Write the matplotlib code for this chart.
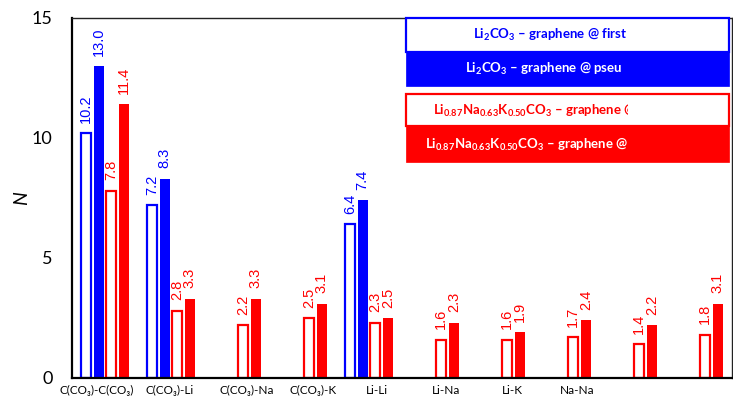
import numpy as np
import matplotlib
matplotlib.use("Agg")
import matplotlib.pyplot as plt
from matplotlib.patches import Rectangle
from matplotlib.transforms import Bbox, TransformedBbox

plt.rcParams['font.family'] = ['Lato', 'DejaVu Sans']
plt.rcParams['mathtext.fontset'] = 'custom'
plt.rcParams['mathtext.rm'] = 'Lato:bold'
plt.rcParams['mathtext.it'] = 'Lato:bold'
plt.rcParams['mathtext.bf'] = 'Lato:bold'

# coordination numbers per atom pair
pairs = ['C(CO₃)-C(CO₃)', 'C(CO₃)-Li', 'C(CO₃)-Na', 'C(CO₃)-K', 'Li-Li',
         'Li-Na', 'Li-K', 'Na-Na', '', '']
label_pos = [-0.12, 0.985, 2.15, 3.15, 4.12, 5.17, 6.17, 7.15, 8.15, 9.15]
li2co3_first = [10.2, 7.2, np.nan, np.nan, 6.4, np.nan, np.nan, np.nan, np.nan, np.nan]
li2co3_pseudo = [13.0, 8.3, np.nan, np.nan, 7.4, np.nan, np.nan, np.nan, np.nan, np.nan]
eut_first = [7.8, 2.8, 2.2, 2.5, 2.3, 1.6, 1.6, 1.7, 1.4, 1.8]
eut_pseudo = [11.4, 3.3, 3.3, 3.1, 2.5, 2.3, 1.9, 2.4, 2.2, 3.1]

legend_labels = [
    r'Li$_2$CO$_3$ – graphene @ first',
    r'Li$_2$CO$_3$ – graphene @ pseu',
    r'Li$_{0.87}$Na$_{0.63}$K$_{0.50}$CO$_3$ – graphene @',
    r'Li$_{0.87}$Na$_{0.63}$K$_{0.50}$CO$_3$ – graphene @',
]

BLUE = '#0000FF'
RED = '#FF0000'

fig = plt.figure(figsize=(7.33, 4.05), dpi=100)
ax = fig.add_axes([0.0982, 0.0667, 0.9004, 0.8889])

x = np.arange(len(pairs))
step = 0.19
w = 0.15
series = [
    (li2co3_first, BLUE, True),
    (li2co3_pseudo, BLUE, False),
    (eut_first, RED, True),
    (eut_pseudo, RED, False),
]
for k, (vals, col, hollow) in enumerate(series):
    xs = x + (k - 1.5) * step
    vals = np.array(vals, dtype=float)
    m = ~np.isnan(vals)
    if hollow:
        ax.bar(xs[m], vals[m], width=w, facecolor='white', edgecolor=col,
               linewidth=1.6, zorder=2)
    else:
        ax.bar(xs[m], vals[m], width=w, color=col, linewidth=0, zorder=2)
    for xi, v in zip(xs[m], vals[m]):
        ax.annotate(f'{v:.1f}', (xi, v), xytext=(0, 7.5), textcoords='offset points',
                    rotation=90, ha='center', va='bottom', color=col,
                    fontsize=10.5, family='Liberation Sans')

ax.set_xlim(-0.5, 9.5)
ax.set_ylim(0, 15)
ax.set_yticks([0, 5, 10, 15])
ax.tick_params(axis='y', length=0, pad=14, labelsize=13)
ax.set_xticks(label_pos)
ax.set_xticklabels(pairs, fontsize=8.5)
ax.tick_params(axis='x', length=0, pad=5)
ax.set_ylabel('N', fontsize=14, style='italic', labelpad=1)

for side in ['left', 'bottom']:
    ax.spines[side].set_linewidth(1.6)
for side in ['top', 'right']:
    ax.spines[side].set_linewidth(1.0)
    ax.spines[side].set_color('#222222')

# boxed legend entries in the upper right
x0, x1 = 0.506, 0.995
boxes = [
    (0.906, 1.0, BLUE, True),
    (0.811, 0.906, BLUE, False),
    (0.700, 0.789, RED, True),
    (0.600, 0.700, RED, False),
]
text_x = [0.607, 0.596, 0.547, 0.535]
clip = TransformedBbox(Bbox([[0.0, 0.0], [0.842, 1.0]]), ax.transAxes)
for (y0, y1, col, hollow), tx, lab in zip(boxes, text_x, legend_labels):
    if hollow:
        r = Rectangle((x0, y0), x1 - x0, y1 - y0, transform=ax.transAxes,
                      facecolor='white', edgecolor=col, linewidth=1.6, zorder=3,
                      clip_on=False)
        tc = col
    else:
        r = Rectangle((x0, y0), x1 - x0, y1 - y0, transform=ax.transAxes,
                      facecolor=col, edgecolor=col, linewidth=0.5, zorder=3,
                      clip_on=False)
        tc = 'white'
    ax.add_patch(r)
    t = ax.text(tx, (y0 + y1) / 2, lab, transform=ax.transAxes, ha='left',
                va='center', color=tc, fontsize=9.5, fontweight='bold', zorder=4)
    t.set_clip_box(clip)
    t.set_clip_on(True)

fig.savefig('out.png', dpi=100)
